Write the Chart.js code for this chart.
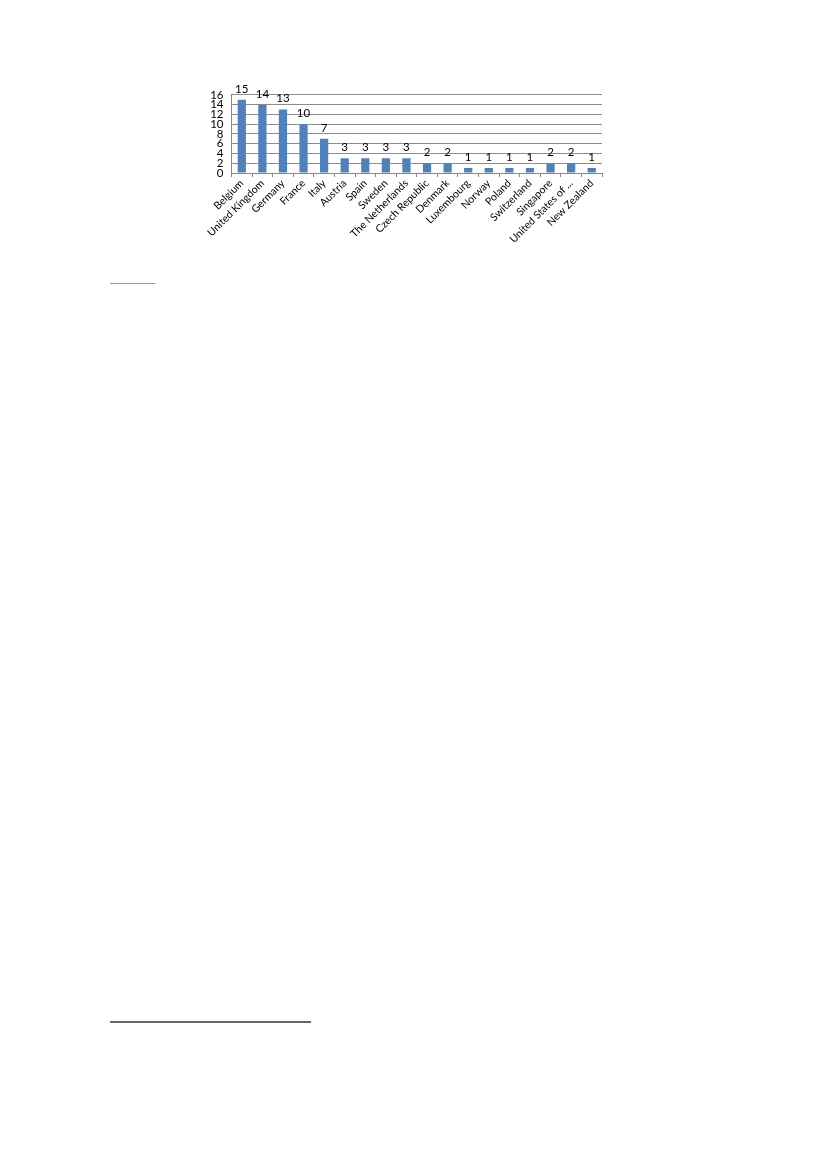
<!DOCTYPE html>
<html>
<head>
<meta charset="utf-8">
<script src="https://cdn.jsdelivr.net/npm/chart.js@4"></script>
<style>
  body { margin: 0; background: #fff; width: 827px; height: 1169px; position: relative; }
  #wrap { position: absolute; left: 200px; top: 80px; width: 410px; height: 170px; }
  .rule { position: absolute; height: 1px; }
</style>
</head>
<body>
<div id="wrap"><canvas id="chart"></canvas></div>
<div class="rule" style="left:110px; top:283px; width:45px; background:#999;"></div>
<div class="rule" style="left:110px; top:1021px; width:201px; background:#666; height:2px;"></div>
<script>
const countries = ['Belgium', 'United Kingdom', 'Germany', 'France', 'Italy', 'Austria', 'Spain',
  'Sweden', 'The Netherlands', 'Czech Republic', 'Denmark', 'Luxembourg', 'Norway', 'Poland',
  'Switzerland', 'Singapore', 'United States of ...', 'New Zealand'];
const counts = [15, 14, 13, 10, 7, 3, 3, 3, 3, 2, 2, 1, 1, 1, 1, 2, 2, 1];
const yTicks = [0, 2, 4, 6, 8, 10, 12, 14, 16];

// numbers above each bar
const valueLabels = {
  id: 'valueLabels',
  afterDatasetsDraw(chart) {
    const ctx = chart.ctx;
    const meta = chart.getDatasetMeta(0);
    ctx.save();
    ctx.font = '11.5px Lato';
    ctx.fillStyle = '#000';
    ctx.textAlign = 'center';
    ctx.textBaseline = 'bottom';
    meta.data.forEach((bar, i) => {
      ctx.fillText(counts[i], bar.x, bar.y - 5);
    });
    ctx.restore();
  }
};

new Chart(document.getElementById('chart'), {
  type: 'bar',
  data: {
    labels: countries,
    datasets: [{
      data: counts,
      backgroundColor: '#4F81BD',
      barPercentage: 0.4,
      categoryPercentage: 1
    }]
  },
  plugins: [valueLabels],
  options: {
    responsive: true,
    maintainAspectRatio: false,
    animation: false,
    layout: { padding: { top: 12, right: 8, left: 0, bottom: 0 } },
    plugins: { legend: { display: false }, tooltip: { enabled: false } },
    scales: {
      x: {
        afterFit: s => { s.height = 77; },
        grid: { offset: true, drawOnChartArea: false, tickLength: 4, color: '#888' },
        border: { color: '#888' },
        ticks: {
          font: { family: 'Lato', size: 10.5 },
          color: '#000',
          maxRotation: 45,
          minRotation: 45,
          autoSkip: false,
          padding: 0
        }
      },
      y: {
        min: 0,
        max: 16,
        afterFit: s => { s.width = 31.5; },
        afterBuildTicks: s => { s.ticks = yTicks.map(v => ({ value: v })); },
        grid: { color: '#8c8c8c', drawTicks: false },
        border: { color: '#888' },
        ticks: {
          font: { family: 'Lato', size: 11.5 },
          color: '#000',
          autoSkip: false,
          padding: 8
        }
      }
    }
  }
});
</script>
</body>
</html>
